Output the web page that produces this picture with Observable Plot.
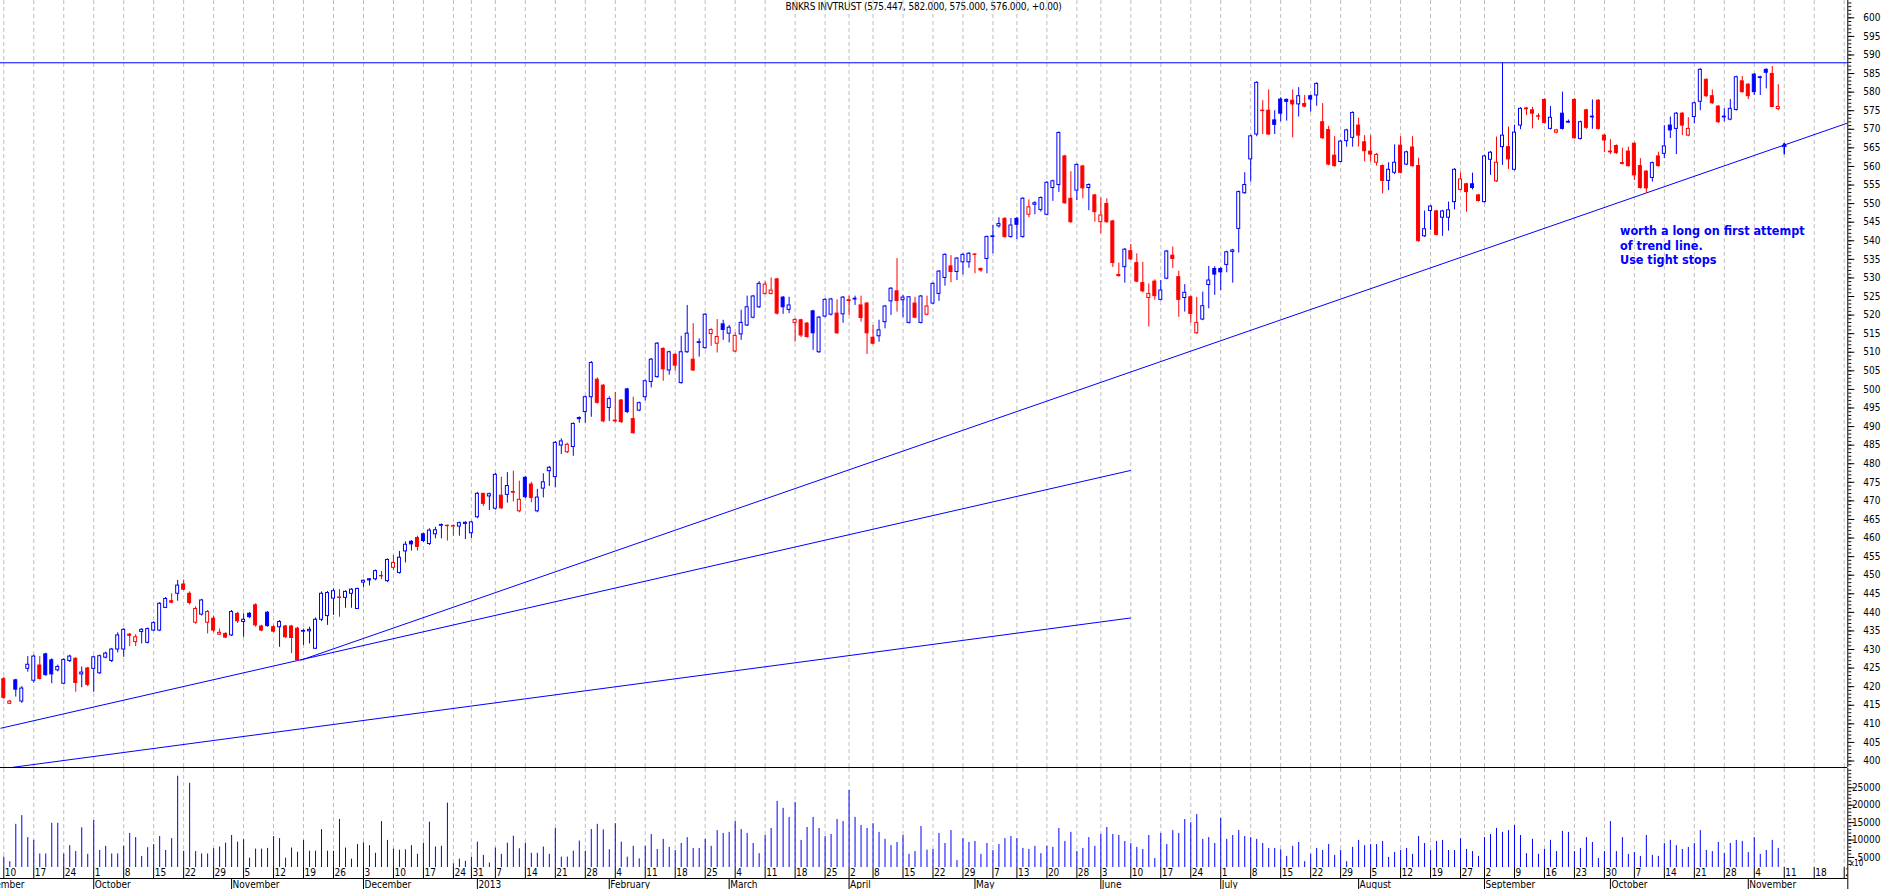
<!DOCTYPE html>
<html>
<head>
<meta charset="utf-8">
<script src="https://cdn.jsdelivr.net/npm/d3@7"></script>
<script src="https://cdn.jsdelivr.net/npm/@observablehq/plot@0.6"></script>
<style>
  html, body { margin: 0; padding: 0; background: #ffffff; }
  #chart { position: relative; width: 1883px; height: 889px; overflow: hidden; background: #ffffff; }
  #chart svg { position: absolute; left: 0; }
  #title { position: absolute; left: 0; top: 1px; width: 1847px; text-align: center;
           font-family: "Liberation Sans Narrow", "Arial Narrow", "DejaVu Sans Condensed", sans-serif;
           font-size: 10px; line-height: 11px; color: #000; white-space: nowrap; letter-spacing: -0.2px; }
</style>
</head>
<body>
<div id="chart"><div id="title">BNKRS INVTRUST (575.447, 582.000, 575.000, 576.000, +0.00)</div></div>
<script>
// ---------------- data (trading-day index 0 = 10 Sep 2012) ----------------
const opens = [
422,415.4,421.7,416,424.8,421.6,425.7,428.7,427.1,424.4,
420.8,426.9,427.5,423.3,424.9,424.8,423.6,427.8,426.9,430,
430,434,432,434.7,431.8,435.1,435.1,441.2,443,445,
447.5,445,437.2,439.4,437.2,438.3,434,434.2,433.8,439.6,
437.4,439.6,441.9,436.2,439.9,436,436,436.2,436.2,435.6,
434.8,434.9,430.2,438,439,443.7,444,443.9,445,440.9,
448,448.9,448.9,449.8,448.4,452,450.6,456.4,459,460,
461,458.4,461,463.3,463.3,463.2,463.1,463.8,461.3,465.6,
471.9,471.2,467.9,471.4,471.6,472.4,467.2,476.2,474.4,467.2,
473.3,478,476.4,484.9,483.1,484.5,492,493.9,497.9,502.6,
501,495,491.6,497,500,492,494.3,497.9,502,503.3,
510.9,505.1,509.3,501.7,510,508,512.5,511.1,514.9,512.3,
517.5,515,510.2,514.8,517.2,519.3,522.1,525.7,525.7,529.6,
524.7,521.4,517.9,518.6,517.7,521,510,519.6,520.1,520.4,
520.2,524,524.2,522.6,523.1,513.9,514.3,518.1,523.7,526.4,
524,517.9,523.1,517.9,520.1,523.1,525.7,530,533.1,531.6,
534.2,534.2,536.3,532.4,535.1,541,543.9,545.9,541,545.9,
541,547,549.7,548.3,547,554.2,555,562.7,551.3,553.5,
560,554.2,552.2,545,549.9,545.2,530.8,532.9,537.2,534,
528.6,524.6,529,524.1,529.8,536,530.2,524.6,524.8,515.1,
518.8,528.1,532.4,532.4,533.5,537,543.2,552.8,561.9,568.6,
575,575,572.4,578,577.9,577.7,576.7,576.8,578.9,579.1,
571.9,569.8,562.9,561.2,566.8,567.7,571,566.5,564,561,
560.1,556.1,558.3,565.6,560.5,565.1,560.1,541.2,548,547.9,
546.2,546.2,550.4,553.7,555.2,555.2,552.2,550.4,561.8,556,
565.2,565.2,559.1,571,575.6,575.1,573.5,577.9,570.1,569.1,
574.2,571.8,577.9,567.4,575.1,573.2,577.7,568.3,564,565.5,
560.9,564,566.1,560.1,558.6,556.9,562.7,563.4,571,570.1,
574.2,568.3,573.3,577.4,583.3,578.9,576.1,573.2,572.6,575.2,
582.9,582,584.7,583.8,586,584.9,575.447];
const highs = [
422.5,416.3,422,420,428.1,428.5,428.1,429,427.5,425.8,
427.5,428.5,427.8,425.3,425.2,428.2,428.5,429.3,430.3,434.5,
435.6,434.3,434,435.6,435.8,437.5,442.6,444,445,448.6,
448.7,445.5,441.5,443.5,440.5,439,435.5,434.5,440.5,440,
439.6,440,442.3,436.5,440.2,436.5,437.8,436.5,436.5,436,
435.5,436,438.5,445.5,445.6,446.3,446.1,445.8,446.4,446.5,
448.7,449,451.4,451,454.4,455.3,456.4,459,459.3,460.5,
461.3,462.5,462.9,463.8,463.5,463.5,464.3,464.4,464.5,472.3,
472,472.1,477.4,476.4,477.6,478,475.3,476.6,475,473.1,
477.3,479.3,486,486.7,485.5,491,492.6,498.2,507.5,503.1,
501.3,498,499.2,497.3,500.3,497.9,496.6,502.5,508.3,512.6,
511.2,510.3,509.6,514.3,522.6,517.7,513.6,520.4,516.3,518.8,
518.6,517.2,515.2,521.3,525.1,525.3,529,528.9,530,529.9,
525,524.8,519,518.9,518,521.3,519.6,524.4,524.5,524.1,
525,525.1,525.1,525.1,523.4,517.2,518.6,522.6,527.4,535.2,
525.3,525,524.8,525.3,525.1,528.7,532,536.5,536,535.5,
536.5,536.8,536.5,532.7,541.3,544.1,546.2,546.2,546,546.3,
551.6,551,550.5,551.8,555.9,556.3,569.3,563,558.6,560.7,
560.3,555.3,552.5,551.5,551.3,545.5,534,537.9,539,536.5,
534.2,528.4,529.5,529.3,537.4,538.3,531.8,528.2,525.1,524.8,
526.2,533.1,533,532.8,537.2,537.7,553.4,558.3,568.4,582.8,
577.7,580.6,575,578.5,578.2,580.6,581.2,579.1,579.2,582.5,
576.9,570.8,568,567,570,574.7,573,568.3,568.3,563.5,
560.4,561,565.8,568,564.1,568,562.2,548,549.5,548.2,
548.2,550.4,559.4,558.3,555.5,558.2,552.5,563,564,567.9,
587.9,570.6,571.1,575.8,575.9,575.9,574.2,578.2,576.1,570,
580,572.5,578.2,572.2,575.4,577.9,578,568.6,567.2,565.8,
564.9,565.2,566.4,562.1,558.9,561.2,563.8,571,573.3,574.5,
574.5,573.1,577.3,586.3,583.6,580.6,576.4,575.5,578,584.3,
584.2,582.3,585,584.3,586.3,586.9,582];
const lows = [
416.5,415.2,417.2,415.5,423.9,421,421.8,422.8,420.8,424,
420.5,426.5,418.5,419.7,420,418.5,423.3,427.5,426.5,429.1,
427.9,430.8,430.8,431.5,431.5,434.8,434.8,441,442.3,443,
445.8,442,436.8,439,434.2,434.5,433.8,433,433.5,437,
433.3,438.3,436,434.8,436,434.5,430.6,433,428.9,426.8,
431.1,431.5,430,437.5,436.5,439.2,438.7,441.1,441.1,440.8,
446.6,447.1,448.5,448.8,448,451.3,450.3,453.3,456.5,456.5,
458.8,458,459.8,459.8,459.2,460.5,460.5,459.6,459.8,465.2,
468.5,467.4,467.5,467.7,469.4,469.7,466.8,470.6,469.5,466.8,
470.8,473.9,473.5,482.5,482.7,482,490.9,490.9,492.5,496,
491,491.4,491,490.8,493.5,488,494,496.9,500.4,503,
502.2,503.8,504.9,501.4,509.7,504.8,508.7,510.8,511.6,509.8,
513.2,512.5,509.9,513.2,516.9,519,521.8,525.4,525.4,520,
520.2,520.4,512.7,513.9,513.8,510.5,509.7,519.3,519.8,514.8,
517.8,519.9,522.6,518.1,509.4,512,512.7,516.3,519.9,520.8,
519.3,517.6,519,517.6,519.8,522.8,523.7,527.8,528.7,529.3,
530.8,532.6,531.1,531.5,531.1,536.5,543.4,540.7,540.7,540.3,
540.7,546.2,547,547.7,546.7,550.6,553,549.8,544.7,550.8,
551.3,548.1,545,541.9,544.7,532.8,530.2,528.6,534.7,528.7,
526,516.8,524,523.8,529.5,532.5,519.4,520.8,517.9,514.8,
518.5,521.7,525.3,526.6,531.4,528.6,536.7,552.5,555.8,568,
568.6,568.3,568.6,572,572.2,567.7,573.3,575.8,574.6,576.2,
567.3,560.2,559.8,561,565.2,565.2,565.2,561.2,561.2,560.1,
552.6,553.5,557.8,558,560.2,559.8,539.6,540.9,542.8,541.3,
541.2,542.6,548.3,553.4,547.7,553.7,550.4,550.1,557.6,555.7,
560.3,559.2,558.8,569.9,573.7,570.1,572.4,571.4,569.8,568.8,
569.8,571.6,567.3,567.1,570,570,569.8,563.7,563.2,563.2,
560.4,559.8,556.2,553.9,552.8,555.8,559.8,562.1,567.5,563.2,
568.3,568,571.5,575,578.6,576.7,571.6,572,572.3,574.9,
579.7,578,579.1,579.1,580.9,575.8,575];
const closes = [
417,416,419.2,419.5,425.9,428.1,422.1,423.1,423.3,425.3,
427.2,428.1,421,423.8,420.5,427.9,428.2,428.9,430,433.8,
435.3,433.7,433.3,435.3,435.5,437.1,442.3,443.6,442.6,447.2,
446.1,442.5,440.9,443.2,440.1,435.1,434.5,433.2,440.1,437.6,
438,438.7,436.5,435.1,436.3,434.8,437.4,433.3,433.1,427.1,
435,435.3,438,445,445.2,445.7,443.9,445.5,446.1,446.3,
448.5,448.6,451.1,449.7,454.1,453.3,454.7,458.2,458.3,457.6,
459.2,462,462.1,463.5,463.2,463.1,464,464.1,464.2,471.9,
469.2,471.8,477,468,474,472.2,470.3,471,470.8,470.9,
475,478.9,485.6,486,485.1,490.7,492.3,497.9,507.1,496.4,
491.4,497.4,491.4,491.2,493.9,488.2,496.3,502.2,508,512.3,
505.4,510,506.4,510,515,505.1,512.7,520.1,516,514.1,
516,516.6,514.4,517.9,522.1,525,528.4,528.2,526.6,520.4,
522.1,522.6,518.7,514.5,514.1,515.1,519.3,524.1,524.2,515.1,
524.7,523.8,524.4,519.2,515.1,512.3,515.9,522.3,527.1,523.8,
524.7,524.8,519.3,525,522.3,528.4,531.7,536.2,531.6,535.2,
536.2,536.5,536.2,532,541,541.2,544.5,541,544.1,544.3,
551.3,549,550.1,551.5,555.6,556,569,550.1,545,560.4,
554.1,555,547.7,546.8,545,534,530.5,537.6,535,529,
526.4,525.7,525.1,526.6,537.1,535.1,524.1,526,520.3,517.9,
522.4,529.3,530.9,531.5,536.9,537.4,553.1,555,568.1,582.5,
574.9,568.6,571.2,574.2,577.4,576.7,578.9,576.1,578,582.2,
567.6,560.5,560.1,566.7,569.7,574.4,568.3,564.1,563.2,563.1,
556.1,559.1,561,558.3,563.8,560.1,539.9,543.1,549.2,541.6,
547.9,548.2,559.1,556.5,553.1,554.2,550.7,562.7,563.7,561,
568.3,561.9,569.1,575.5,575.4,574.2,573.4,571.7,573.1,569.7,
570.1,572,567.6,571.9,570.4,573.4,570.1,567,563.8,563.6,
560.7,560.1,557.6,554.2,554.1,560.9,560.1,565.4,569.7,574.2,
571,570.1,577,586,578.9,577,571.9,573.4,575.5,584,
580,578.9,580,584,585.2,576,576];
const volumes = [
5100,3800,14500,17000,10700,9900,6000,6000,14800,14800,
6000,8400,6700,13500,5900,15600,7000,8200,6000,6000,
8200,11900,10700,5300,7800,8700,11000,7000,10400,28300,
6800,26300,6700,6000,6000,7500,8000,9100,11300,9400,
10100,4800,7400,7400,7600,11000,10400,4800,7700,6500,
9900,6800,6800,13000,6800,6800,15900,7700,4500,8700,
9200,8400,6200,15300,9900,7400,7100,7200,8400,5900,
9100,15100,8000,8200,20600,3200,4500,3900,5100,9400,
5600,3400,7700,5900,9100,11100,7500,9100,6200,6200,
8000,5900,13300,5100,5100,6800,9700,6800,13000,14500,
12900,7200,14700,9400,5100,8200,4600,8200,11600,7300,
10200,7900,7000,9000,10700,7600,7600,10200,8200,12700,
11900,12200,15300,13000,11900,9000,6100,11300,13300,21100,
19100,16500,20800,9900,13600,16500,13300,11000,11600,15900,
15300,24200,16500,14200,13300,14700,12200,10200,8400,9300,
11300,5900,6700,13900,7100,7300,11900,9000,12700,4100,
10400,9300,9600,5900,9000,7000,8700,10400,11000,10400,
7600,7300,8200,6100,8200,7900,13300,9600,12200,6700,
7600,10700,8200,11600,13600,11600,11300,9600,9000,7900,
7300,11300,4700,11900,8700,12700,11900,15900,15000,17300,
10200,10700,9000,16200,10200,11300,12700,11000,10700,10200,
9000,7600,7600,7200,5300,8200,9300,3800,5900,7600,
7000,8700,5600,7000,3800,7900,9900,8400,8700,8700,
9600,5000,6400,7000,7600,5900,11000,9000,7000,9600,
9900,7000,7000,10400,7300,6700,5300,10700,11600,13300,
12200,12700,14200,11300,6100,10200,5900,7300,9900,6700,
12500,12200,6700,7600,10700,9300,4700,6700,15300,6700,
10700,5900,6400,5300,11300,5600,5300,9000,9900,8400,
7300,7900,9000,12700,7000,6700,9300,6100,9000,9900,
9600,6400,10700,5900,7000,9900,7600];

// week starts (Mondays / first trading day of week) and their labels
const weekIdx = [0,5,10,15,20,25,30,35,40,45,50,55,60,65,70,75,78,82,87,92,97,102,107,112,117,122,127,132,137,141,145,150,155,160,165,169,174,179,183,188,193,198,203,208,213,218,223,228,233,238,243,247,252,257,262,267,272,277,282,287,292,297,302,307];
const weekLabels = ["10","17","24","1","8","15","22","29","5","12","19","26","3","10","17","24","31","7","14","21","28","4","11","18","25","4","11","18","25","2","8","15","22","29","7","13","20","28","3","10","17","24","1","8","15","22","29","5","12","19","27","2","9","16","23","30","7","14","21","28","4","11","18","25"];
// first trading day of each month
const monthIdx = [-5,15,38,60,79,101,121,141,162,183,203,226,247,268,291];
const monthLabels = ["September","October","November","December","2013","February","March","April","May","June","July","August","September","October","November"];

// drawn lines: resistance and three trend lines (index, price)
const resistance = 587.9;
const trendStartIdx   = [49.5, -0.55, 1.5];
const trendStartPrice = [427.1, 408.8, 398.3];
const trendEndIdx     = [307.6, 188, 188];
const trendEndPrice   = [571.7, 478.2, 438.5];
// arrow and note
const arrowIdx = 297, arrowFrom = 563.4, arrowTo = 566.2;
const noteIdx = 269.6, notePrice = 538.8;
const noteLines = ["worth a long on first attempt", "of trend line.", "Use tight stops"];

const priceTicks = d3.range(400, 601, 5);
const volumeTicks = [5000, 10000, 15000, 20000, 25000];
const volumeUnit = "x10";

// ---------------- derived tables ----------------
const candles = closes.map((c, i) => {
  const up = i === 0 ? c >= opens[i] : c > closes[i - 1];
  const dir = up ? "up" : "down";
  return {i, open: opens[i], high: highs[i], low: lows[i], close: c, dir,
          body: c < opens[i] ? dir : "hollow", vol: volumes[i]};
});
const weeks = weekIdx.map((i, k) => ({i, label: weekLabels[k]}));
const months = monthIdx.map((i, k) => ({i, label: monthLabels[k]}));
const trends = trendStartIdx.map((s, k) => ({x1: s, y1: trendStartPrice[k], x2: trendEndIdx[k], y2: trendEndPrice[k]}));

const FONT = '"Liberation Sans Narrow", "Arial Narrow", "DejaVu Sans Condensed", sans-serif';
const W = 1883, MR = 35.7;
const xDomain = [-0.55, 307.6];
const BLUE = "#0000ff", RED = "#ff0000", GRID = "#bdbdbd";
const colorScale = {type: "ordinal", domain: ["up", "down", "hollow"], range: [BLUE, RED, "#ffffff"]};
const baseStyle = {fontFamily: FONT, fontSize: "10px", background: "transparent", color: "#000", overflow: "hidden"};

// ---------------- price panel ----------------
const pricePlot = Plot.plot({
  width: W, height: 768,
  marginLeft: 0, marginRight: MR, marginTop: 0, marginBottom: 1,
  x: {domain: xDomain, axis: null},
  y: {domain: [398.25, 604.66], axis: null},
  color: colorScale,
  style: baseStyle,
  marks: [
    Plot.ruleX(weekIdx, {stroke: GRID, strokeDasharray: "4,3"}),
    Plot.ruleY([resistance], {stroke: BLUE}),
    Plot.link(trends, {x1: "x1", y1: "y1", x2: "x2", y2: "y2", stroke: BLUE, strokeWidth: 1, clip: true}),
    Plot.ruleX(candles, {x: "i", y1: "low", y2: "high", stroke: "dir"}),
    Plot.rect(candles, {x1: d => d.i - 0.25, x2: d => d.i + 0.25, y1: "open", y2: "close", fill: "body", stroke: "dir", strokeWidth: 1}),
    Plot.arrow([0], {x1: () => arrowIdx, x2: () => arrowIdx, y1: () => arrowFrom, y2: () => arrowTo, stroke: BLUE, strokeWidth: 1.5, headLength: 5}),
    Plot.text([noteLines.join("\n")], {x: () => noteIdx, y: () => notePrice, text: d => d, textAnchor: "start",
      fill: BLUE, fontSize: 12.5, fontWeight: "bold", lineHeight: 1.16, fontFamily: FONT, style: "letter-spacing:-0.3px"}),
    Plot.axisY({anchor: "right", ticks: d3.range(399, 605, 1), tickSize: 3, tickFormat: () => "", label: null}),
    Plot.axisY({anchor: "right", ticks: priceTicks, tickSize: 6, tickPadding: 26.7, textAnchor: "end", tickFormat: d => String(d), label: null, fontSize: 10}),
    Plot.ruleX([xDomain[1]], {stroke: "#000"}),
    Plot.ruleY([398.25], {stroke: "#000"})
  ]
});
pricePlot.style.top = "0px";

// ---------------- volume panel ----------------
const volPlot = Plot.plot({
  width: W, height: 99,
  marginLeft: 0, marginRight: MR, marginTop: 0, marginBottom: 0,
  x: {domain: xDomain, axis: null},
  y: {domain: [2124, 30523], axis: null},
  style: baseStyle,
  marks: [
    Plot.ruleX(weekIdx, {stroke: GRID, strokeDasharray: "4,3"}),
    Plot.ruleX(candles, {x: "i", y: "vol", stroke: BLUE, clip: true}),
    Plot.axisY({anchor: "right", ticks: d3.range(3000, 30001, 1000), tickSize: 3, tickFormat: () => "", label: null}),
    Plot.axisY({anchor: "right", ticks: volumeTicks, tickSize: 6, tickPadding: 26.7, textAnchor: "end", tickFormat: d => String(d), label: null, fontSize: 10}),
    Plot.text([volumeUnit], {x: () => xDomain[1], y: () => 2500, text: d => d, textAnchor: "start", lineAnchor: "bottom", dx: 2, fontSize: 8}),
    Plot.ruleX([xDomain[1]], {stroke: "#000"})
  ]
});
volPlot.style.top = "768px";

// ---------------- week row ----------------
const weekPlot = Plot.plot({
  width: W, height: 11,
  marginLeft: 0, marginRight: MR, marginTop: 0, marginBottom: 0,
  x: {domain: xDomain, axis: null},
  style: baseStyle,
  marks: [
    Plot.tickX(weeks, {x: "i", stroke: "#000"}),
    Plot.text(weeks, {x: "i", text: "label", textAnchor: "start", dx: 1, fontSize: 10, clip: true}),
    Plot.ruleX([xDomain[1]], {stroke: "#000"})
  ]
});
weekPlot.style.top = "867px";

// ---------------- month row ----------------
const monthPlot = Plot.plot({
  width: W, height: 11,
  marginLeft: 0, marginRight: MR, marginTop: 0, marginBottom: 0,
  x: {domain: xDomain, axis: null},
  y: {domain: [0, 1], axis: null},
  style: baseStyle,
  marks: [
    Plot.ruleY([1], {stroke: "#000"}),
    Plot.tickX(months, {x: "i", stroke: "#000"}),
    Plot.text(months, {x: "i", y: () => 0.45, text: "label", textAnchor: "start", dx: 1, fontSize: 10, clip: true}),
    Plot.ruleX([xDomain[1]], {stroke: "#000"})
  ]
});
monthPlot.style.top = "878px";

const chart = document.getElementById("chart");
chart.appendChild(pricePlot);
chart.appendChild(volPlot);
chart.appendChild(weekPlot);
chart.appendChild(monthPlot);
</script>
</body>
</html>
